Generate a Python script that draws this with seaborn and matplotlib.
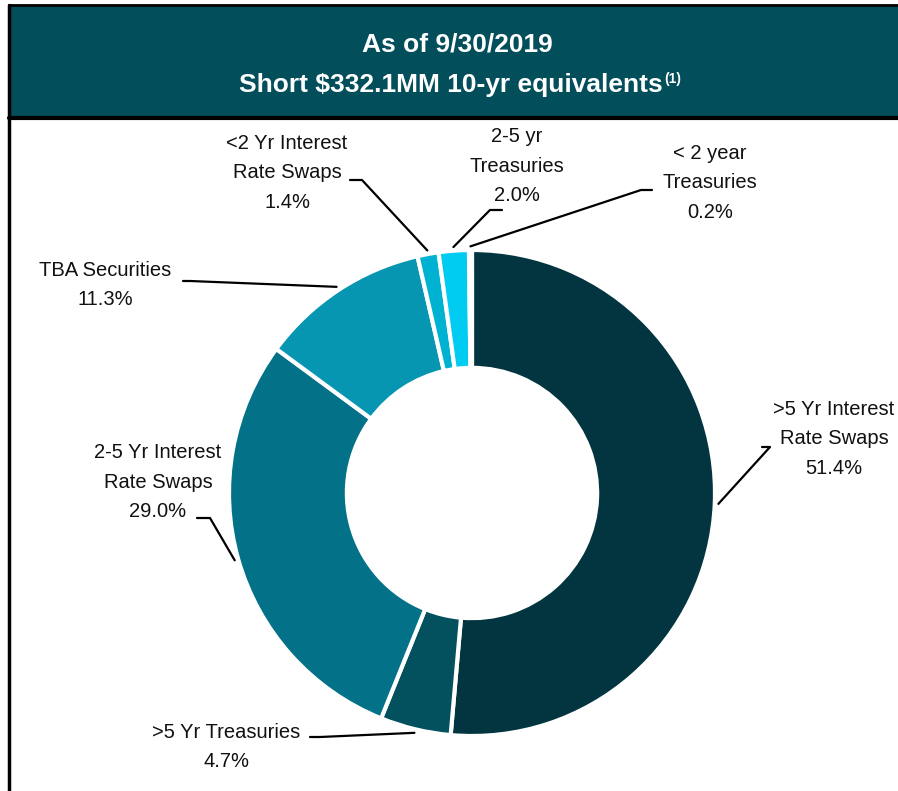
import matplotlib
matplotlib.use("Agg")
import matplotlib.pyplot as plt
import seaborn as sns
import numpy as np

# data
labels = [">5 Yr Interest\nRate Swaps", ">5 Yr Treasuries", "2-5 Yr Interest\nRate Swaps",
          "TBA Securities", "<2 Yr Interest\nRate Swaps", "2-5 yr\nTreasuries", "< 2 year\nTreasuries"]
shares = [51.4, 4.7, 29.0, 11.3, 1.4, 2.0, 0.2]
colors = ["#023540", "#03505F", "#037188", "#0796B2", "#00B2D2", "#00CCF2", "#E6F9FD"]
title1 = "As of 9/30/2019"
title2 = "Short $332.1MM 10-yr equivalents"

# layout (pixels, y measured from top)
W, H = 898, 791
cx, cy, R = 472, 493, 243
# text center, elbow point, stub end
text_pos = [(834, 439), (226, 747), (158, 482), (105, 285), (287, 173), (517, 166), (710, 183)]
elbows = [(770, 447), (320, 737), (210, 518), (190, 281), (362, 180), (490, 210), (641, 190)]
stubs = [(762, 447), (310, 737), (197, 518), (183, 281), (350, 180), (502, 210), (652, 190)]

sns.set_theme(style="white")
plt.rcParams['font.family'] = ['Liberation Sans Narrow', 'Liberation Sans', 'DejaVu Sans']

fig = plt.figure(figsize=(W / 100, H / 100), dpi=100)
ax = fig.add_axes([0, 0, 1, 1])

def fy(y):
    return H - y

wedges, _ = ax.pie(shares, colors=colors, startangle=90, counterclock=False,
                   center=(cx, fy(cy)), radius=R,
                   wedgeprops=dict(width=R * 0.485, edgecolor="white", linewidth=3))

ax.set_xlim(0, W)
ax.set_ylim(0, H)
ax.set_aspect("equal")
ax.axis("off")

# header
ax.add_patch(plt.Rectangle((9, fy(118)), W - 9, 113, color="#024E5A", zorder=1))
ax.plot([9, W], [fy(118), fy(118)], color="black", lw=3, zorder=2)
ax.plot([9, W], [fy(5), fy(5)], color="black", lw=2, zorder=2)
ax.plot([9, 9], [0, fy(5)], color="black", lw=2.5, zorder=2)
ax.text(457, fy(45), title1, color="white", fontsize=19, fontweight="bold",
        ha="center", va="center")
t2 = ax.text(451, fy(85), title2, color="white", fontsize=19, fontweight="bold",
             ha="center", va="center")
fig.canvas.draw()
bb = t2.get_window_extent().transformed(ax.transData.inverted())
ax.text(bb.x1 + 1, fy(79), "(1)", color="white", fontsize=10, fontweight="bold",
        ha="left", va="center")

# labels and leader lines
for w, lab, s, tp, el, st in zip(wedges, labels, shares, text_pos, elbows, stubs):
    ang = np.deg2rad((w.theta1 + w.theta2) / 2)
    ex = cx + R * 1.015 * np.cos(ang)
    ey = fy(cy) + R * 1.015 * np.sin(ang)
    ax.plot([st[0], el[0], ex], [fy(st[1]), fy(el[1]), ey], color="black", lw=1.6, zorder=3)
    ax.text(tp[0], fy(tp[1]), f"{lab}\n{s:.1f}%", fontsize=14.5, color="#111111",
            ha="center", va="center", linespacing=1.7)

fig.savefig("out.png", dpi=100)
